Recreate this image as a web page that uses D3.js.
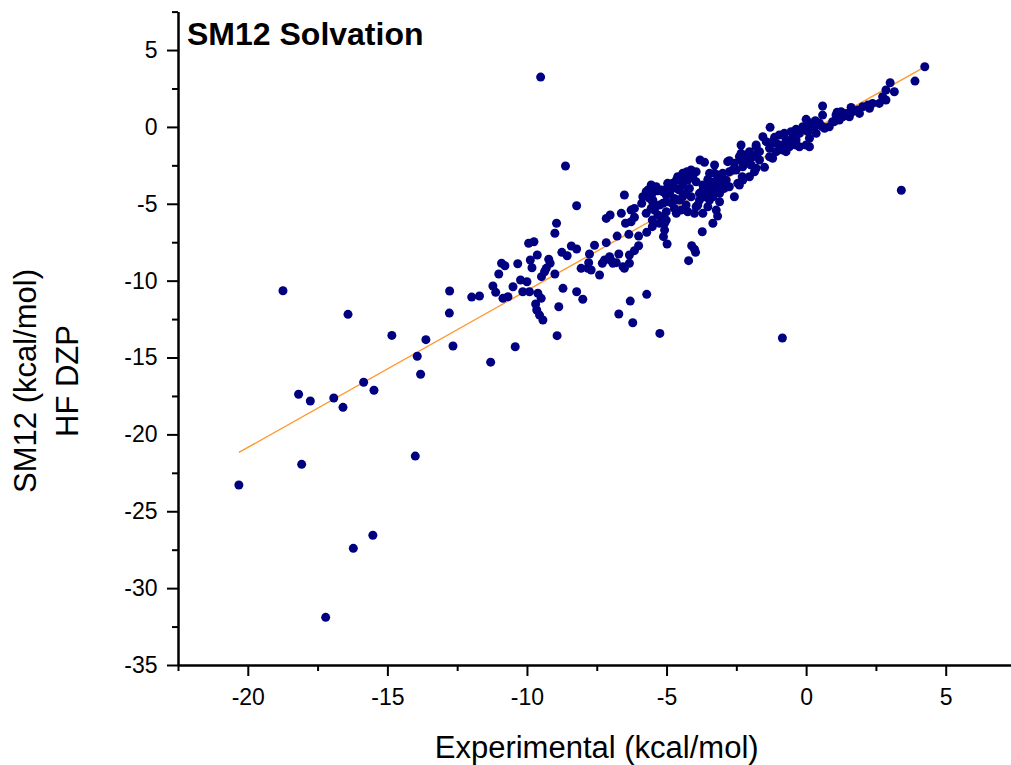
<!DOCTYPE html>
<html>
<head>
<meta charset="utf-8">
<script src="https://cdn.jsdelivr.net/npm/d3@7"></script>
<style>
  body { margin: 0; background: #fff; }
  svg { display: block; font-family: "Liberation Sans", Arial, sans-serif; }
</style>
</head>
<body>
<div id="chart"></div>
<script>
// experimental vs SM12 (HF DZP) solvation free energies, kcal/mol
const points = [
  // scattered outliers
  [-20.32,-23.29],[-18.74,-10.66],[-18.18,-17.39],[-17.76,-17.83],[-18.07,-21.95],[-16.92,-17.63],
  [-16.59,-18.24],[-16.41,-12.19],[-15.85,-16.61],[-15.48,-17.13],[-14.84,-13.56],[-13.93,-14.92],
  [-13.62,-13.84],[-13.81,-16.09],[-14.0,-21.41],[-15.52,-26.56],[-16.22,-27.41],[-17.21,-31.9],
  [-12.77,-10.67],[-12.78,-12.11],[-12.65,-14.25],[-11.98,-11.07],[-11.7,-11.0],[-11.3,-15.3],
  [-10.42,-14.3],[-9.51,3.24],[-0.85,-13.73],[3.41,-4.12],[4.25,3.91],[3.9,2.98],
  // -11.5 .. -5
  [-8.62,-2.54],[-8.22,-5.13],[-8.94,-6.27],[-9.0,-6.92],[-9.94,-7.57],[-9.75,-7.47],[-9.63,-8.33],
  [-10.91,-8.87],[-10.79,-9.03],[-11.01,-9.57],[-10.33,-8.9],[-9.88,-8.66],[-9.82,-9.16],[-9.22,-8.61],
  [-9.17,-8.87],[-9.31,-9.2],[-9.48,-9.74],[-9.0,-9.57],[-10.23,-9.96],[-10.0,-10.07],[-11.22,-10.35],
  [-10.5,-10.4],[-10.15,-10.72],[-9.91,-10.72],[-11.12,-10.76],[-10.86,-11.15],[-10.68,-11.05],
  [-9.61,-10.82],[-9.49,-11.15],[-9.69,-11.52],[-9.65,-11.91],[-9.55,-12.24],[-9.43,-12.56],
  [-8.86,-11.7],[-8.71,-10.5],[-8.92,-13.58],[-8.22,-10.72],[-8.0,-11.21],[-8.75,-8.16],[-8.56,-8.38],
  [-8.41,-7.75],[-8.22,-7.94],[-8.06,-9.2],[-7.79,-8.83],[-7.76,-8.27],[-7.58,-7.7],[-7.82,-9.2],
  [-7.7,-9.31],[-7.4,-9.63],[-7.22,-8.66],[-7.16,-7.53],[-6.98,-8.7],[-6.8,-8.83],[-6.71,-8.27],
  [-6.51,-9.2],[-6.33,-8.33],[-6.15,-8.05],[-6.0,-7.73],[-6.77,-7.1],[-6.35,-6.99],[-7.16,-5.95],
  [-7.02,-5.73],[-6.62,-5.62],[-6.47,-6.27],[-6.27,-5.41],[-6.15,-5.3],[-6.15,-5.88],[-6.51,-4.43],
  [-5.89,-4.97],[-5.73,-5.62],[-5.55,-5.3],[-5.71,-6.86],[-5.51,-6.49],[-5.07,-6.27],[-5.11,-7.14],
  [-4.98,-7.62],[-6.71,-12.17],[-6.3,-11.33],[-6.21,-12.74],[-5.71,-10.89],[-5.24,-13.43],
  [-5.67,-4.11],[-5.55,-3.78],[-5.43,-4.0],[-5.19,-4.11],[-5.01,-4.43],[-4.83,-4.0],[-4.65,-3.46],
  [-5.49,-4.76],[-5.25,-5.08],[-5.01,-4.87],[-4.72,-5.3],[-4.65,-4.76],[-9.37,-9.42],[-6.92,-8.87],
  [-4.21,-8.7],[-4.1,-7.73],[-3.96,-8.16],[-6.27,-6.17],[-6.0,-7.1],[-7.3,-8.87],[-6.33,-8.87],
  [-6.56,-9.09],[-7.04,-8.44],
  // -6 .. -2.5
  [-5.73,-4.22],[-5.51,-4.32],[-5.31,-4.15],[-5.13,-4.22],[-5.49,-4.93],[-5.43,-5.41],[-5.31,-5.73],
  [-5.51,-6.06],[-5.01,-5.52],[-5.01,-6.06],[-5.07,-6.71],[-4.83,-4.93],[-4.72,-4.65],[-4.65,-4.0],
  [-4.78,-3.67],[-4.6,-3.24],[-4.42,-3.02],[-4.27,-2.92],[-4.12,-2.8],[-3.94,-2.92],[-3.8,-2.15],
  [-3.64,-2.3],[-3.28,-2.48],[-2.81,-2.26],[-3.17,-3.13],[-3.52,-3.41],[-3.7,-3.78],[-3.94,-3.57],
  [-4.24,-3.46],[-4.42,-3.78],[-4.54,-4.11],[-4.3,-4.32],[-4.54,-4.76],[-4.48,-5.41],[-4.24,-5.52],
  [-4.0,-5.62],[-3.88,-5.08],[-4.12,-4.54],[-3.82,-4.32],[-3.58,-4.0],[-3.34,-4.11],[-3.46,-4.76],
  [-3.52,-5.19],[-3.28,-3.57],[-3.04,-3.67],[-2.86,-3.46],[-2.93,-4.0],[-3.1,-4.32],[-3.17,-5.8],
  [-3.34,-6.27],[-3.72,-6.82],[-4.0,-7.96],[-4.3,-3.13],[-4.78,-3.89],[-5.07,-4.11],[-5.37,-3.89],
  [-5.13,-4.97],[-4.65,-5.62],[-3.94,-5.19],[-3.64,-4.54],[-3.1,-3.35],[-2.39,-3.78],[-3.28,-3.02],
  [-3.7,-4.11],[-4.89,-4.32],[-4.42,-4.54],[-4.18,-4.0],[-3.82,-4.76],[-3.7,-5.62],[-4.3,-5.08],
  [-5.19,-5.84],[-5.25,-6.27],[-3.46,-3.02],[-4.06,-3.24],[-4.42,-3.46],[-4.96,-3.67],[-5.61,-4.65],
  [-5.85,-4.54],
  // -3 .. 1
  [0.59,1.36],[0.59,0.77],[1.11,0.95],[0.33,0.4],[0.12,0.27],[0.0,0.49],[-0.12,0.01],[-0.36,-0.16],
  [-0.54,-0.31],[-0.78,-0.42],[-0.96,-0.53],[-1.13,-0.68],[-1.29,-0.03],[-1.55,-0.64],[-1.43,-0.96],
  [-1.79,-1.29],[-1.67,-1.61],[-2.03,-1.61],[-2.33,-1.18],[-2.15,-1.83],[-2.33,-2.15],[-2.57,-2.37],
  [-2.75,-2.2],[-2.99,-3.02],[-2.75,-2.92],[-2.51,-2.8],[-2.27,-2.59],[-1.97,-2.48],[-1.79,-2.69],
  [-1.49,-2.63],[-1.31,-1.94],[-1.07,-1.61],[-0.72,-1.61],[-0.78,-1.18],[-0.36,-1.18],[-0.24,-1.29],
  [0.0,-1.18],[0.12,-0.74],[0.36,-0.42],[0.66,-0.09],[0.83,0.01],[1.01,0.34],[-2.29,-3.24],
  [-2.45,-3.67],[-2.75,-3.89],[-3.34,-4.54],[-3.1,-4.87],[-2.57,-4.54],[-2.27,-3.46],[-2.03,-3.24],
  [-1.85,-2.92],[-3.4,-3.67],[-3.22,-5.41],[0.06,-0.31],[0.12,-1.29],[-0.36,-0.85],[-1.2,-0.96],
  [-1.79,-1.18],[-2.33,-1.72],[-1.91,-1.94],[-1.2,-2.04],[-0.84,-1.5],[0.59,0.01],
  [-2.03,-2.15],[-1.67,-2.15],[-1.07,-1.07],[-0.72,-0.85],[-0.48,-0.64],[-0.24,-0.42],[0.0,-0.2],
  [0.24,0.01],[0.48,0.23],[-1.31,-1.39],[-1.79,-1.83],[-2.15,-2.37],[-2.63,-2.8],[-2.99,-3.46],
  [-3.22,-3.89],[-3.4,-4.32],[-2.39,-1.94],[-0.96,-1.18],[-0.6,-1.29],[-0.48,-0.85],
  // 1 .. 3.5
  [3.01,2.87],[3.16,2.29],[2.86,2.4],[2.86,1.75],[2.62,1.53],[2.38,1.53],[2.21,1.42],[2.03,1.31],
  [1.85,1.1],[1.67,0.99],[1.61,1.27],[1.43,0.88],[1.25,0.99],[1.07,0.77],[1.19,0.45],
  [1.55,0.66],[1.91,0.88],[2.27,1.21],[2.74,1.96],[0.95,0.34],[1.31,0.66],[0.48,0.12]
];

// least-squares line as drawn in the figure
const fitSlope = 1.021;
const fitIntercept = -0.43;

const xTicks = [-20, -15, -10, -5, 0, 5];
const yTicks = [5, 0, -5, -10, -15, -20, -25, -30, -35];
const xMinor = [-22.5, -17.5, -12.5, -7.5, -2.5, 2.5, 7.5];
const yMinor = [7.5, 2.5, -2.5, -7.5, -12.5, -17.5, -22.5, -27.5, -32.5];

const width = 1011, height = 765;
const margin = { left: 178, top: 11.6, right: -4.5, bottom: 100 };

const svg = d3.select("#chart").append("svg")
  .attr("width", width)
  .attr("height", height);

const x = d3.scaleLinear()
  .domain([-22.5, 7.5])
  .range([margin.left, width - margin.right]);

const y = d3.scaleLinear()
  .domain([-35, 7.5])
  .range([height - margin.bottom, margin.top]);

// fit line
const xExt = d3.extent(points, d => d[0]);
svg.append("line")
  .attr("x1", x(xExt[0]))
  .attr("y1", y(fitIntercept + fitSlope * xExt[0]))
  .attr("x2", x(xExt[1]))
  .attr("y2", y(fitIntercept + fitSlope * xExt[1]))
  .attr("stroke", "#ff9933")
  .attr("stroke-width", 1.4);

// scatter
svg.append("g")
  .attr("fill", "#000080")
  .selectAll("circle")
  .data(points)
  .join("circle")
  .attr("cx", d => x(d[0]))
  .attr("cy", d => y(d[1]))
  .attr("r", 4.5);

// axes (plain hyphen minus like the original)
const fmt = d => String(d);
const xAxis = d3.axisBottom(x).tickValues(xTicks).tickFormat(fmt).tickSize(11).tickSizeOuter(0).tickPadding(13);
const xAxisMinor = d3.axisBottom(x).tickValues(xMinor).tickSize(6).tickSizeOuter(0).tickFormat("");
const yAxis = d3.axisLeft(y).tickValues(yTicks).tickFormat(fmt).tickSize(11).tickSizeOuter(0).tickPadding(9.5);
const yAxisMinor = d3.axisLeft(y).tickValues(yMinor).tickSize(6).tickSizeOuter(0).tickFormat("");

function styleAxis(g) {
  g.selectAll("path, line").attr("stroke", "#000").attr("stroke-width", 2);
  g.selectAll("text")
    .attr("fill", "#000")
    .style("font-family", "'Liberation Sans', Arial, sans-serif")
    .style("font-size", "23px");
}

const xg = svg.append("g").attr("transform", `translate(0,${y(-35)})`);
xg.append("g").call(xAxisMinor).call(styleAxis);
xg.append("g").call(xAxis).call(styleAxis);

const yg = svg.append("g").attr("transform", `translate(${x(-22.5)},0)`);
yg.append("g").call(yAxisMinor).call(styleAxis);
yg.append("g").call(yAxis).call(styleAxis);

// labels
svg.append("text")
  .attr("x", 187)
  .attr("y", 45)
  .attr("font-size", 32)
  .attr("font-weight", "bold")
  .text("SM12 Solvation");

svg.append("text")
  .attr("x", 596.7)
  .attr("y", 758)
  .attr("text-anchor", "middle")
  .attr("font-size", 31)
  .text("Experimental (kcal/mol)");

svg.append("text")
  .attr("transform", "translate(36,381) rotate(-90)")
  .attr("text-anchor", "middle")
  .attr("font-size", 31)
  .text("SM12 (kcal/mol)");

svg.append("text")
  .attr("transform", "translate(78,381) rotate(-90)")
  .attr("text-anchor", "middle")
  .attr("font-size", 31)
  .text("HF DZP");
</script>
</body>
</html>
